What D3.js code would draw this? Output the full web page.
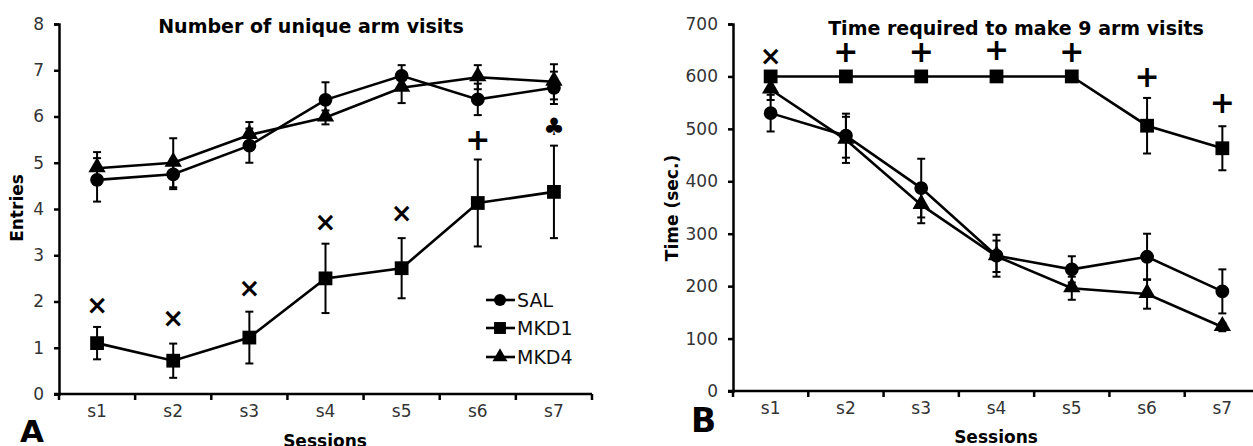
<!DOCTYPE html>
<html><head><meta charset="utf-8">
<script src="https://cdn.jsdelivr.net/npm/d3@7"></script>
<style>body{margin:0;background:#fff}svg{display:block}text{font-family:"DejaVu Sans",Verdana,sans-serif}</style>
</head><body>
<svg id="c" width="1253" height="446"></svg>
<script>
const sessions = ["s1","s2","s3","s4","s5","s6","s7"];
const seriesNames = ["SAL","MKD1","MKD4"];

// Panel A: Number of unique arm visits
const salA = [4.63, 4.75, 5.37, 6.36, 6.88, 6.37, 6.62];
const salAErr = [0.47, 0.32, 0.37, 0.38, 0.23, 0.34, 0.35];
const mkd1A = [1.10, 0.72, 1.22, 2.50, 2.72, 4.13, 4.37];
const mkd1AErr = [0.35, 0.37, 0.56, 0.75, 0.65, 0.94, 1.00];
const mkd4A = [4.88, 5.00, 5.60, 5.98, 6.62, 6.85, 6.75];
const mkd4AErr = [0.35, 0.53, 0.28, 0.15, 0.33, 0.26, 0.38];
const markA = ["×","×","×","×","×","+","♣"];
const markAY = [1.93, 1.65, 2.30, 3.72, 3.92, 5.50, 5.78];
const ticksA = [0,1,2,3,4,5,6,7,8];

// Panel B: Time required to make 9 arm visits
const salB = [530, 487, 387, 258, 232, 256, 190];
const salBErr = [35, 42, 56, 40, 25, 44, 42];
const mkd1B = [600, 600, 600, 600, 600, 506, 463];
const mkd1BErr = [0, 0, 0, 0, 0, 53, 42];
const mkd4B = [575, 479, 355, 257, 196, 185, 122];
const mkd4BErr = [20, 44, 35, 30, 22, 28, 8];
const markB = ["×","+","+","+","+","+","+"];
const markBY = [639, 648, 648, 652, 648, 600, 550];
const ticksB = [0,100,200,300,400,500,600,700];

const svg = d3.select("#c");
const symbolFor = {SAL: d3.symbolCircle, MKD1: d3.symbolSquare, MKD4: d3.symbolTriangle};
const symSize = {SAL: 150, MKD1: 190, MKD4: 130};

function panel(cfg){
  const g = svg.append("g");
  const x = d3.scaleBand().domain(sessions).range(cfg.xr).padding(0);
  const y = d3.scaleLinear().domain(cfg.yd).range(cfg.yr);
  const cx = d => x(d) + x.bandwidth()/2;

  // y axis
  const ya = g.append("g").attr("transform",`translate(${cfg.xr[0]},0)`)
    .call(d3.axisLeft(y).tickValues(cfg.ticks).tickSize(5).tickPadding(10));
  ya.select(".domain").attr("stroke","#000").attr("stroke-width",2.5);
  ya.selectAll(".tick line").attr("stroke","#000").attr("stroke-width",2.5);
  ya.selectAll(".tick text").attr("fill","#333").style("font-size","17px").style("font-family","DejaVu Sans");

  // x axis (labels centred in bands, ticks at band edges)
  const base = y(0);
  const xa = g.append("g").attr("transform",`translate(0,${base})`)
    .call(d3.axisBottom(x).tickSize(0).tickPadding(11));
  xa.select(".domain").remove();
  xa.selectAll(".tick text").attr("fill","#333").style("font-size","17px").style("font-family","DejaVu Sans");
  const edges = sessions.map(s => x(s)).concat([cfg.xr[1]]);
  g.append("line").attr("x1",cfg.xr[0]-5).attr("x2",cfg.xr[1]).attr("y1",base).attr("y2",base)
    .attr("stroke","#000").attr("stroke-width",2.5);
  g.selectAll(".xt").data(edges).join("line").attr("class","xt")
    .attr("x1",d=>d).attr("x2",d=>d).attr("y1",base).attr("y2",base+6)
    .attr("stroke","#000").attr("stroke-width",2.5);

  // series
  cfg.series.forEach(s => {
    const pts = sessions.map((k,i)=>({k, v:s.vals[i], e:s.err[i]}));
    g.append("path").datum(pts)
      .attr("d", d3.line().x(d=>cx(d.k)).y(d=>y(d.v)))
      .attr("fill","none").attr("stroke","#000").attr("stroke-width",2.6);
    const eb = g.append("g");
    pts.filter(d=>d.e>0).forEach(d=>{
      const X = cx(d.k);
      eb.append("line").attr("x1",X).attr("x2",X).attr("y1",y(d.v+d.e)).attr("y2",y(d.v-d.e))
        .attr("stroke","#000").attr("stroke-width",2);
      [d.v+d.e, d.v-d.e].forEach(v=>{
        eb.append("line").attr("x1",X-4).attr("x2",X+4).attr("y1",y(v)).attr("y2",y(v))
          .attr("stroke","#000").attr("stroke-width",2);
      });
    });
    g.selectAll(null).data(pts).join("path")
      .attr("transform", d=>`translate(${cx(d.k)},${y(d.v) + (s.name==="MKD4"?-1:0)})`)
      .attr("d", d3.symbol().type(symbolFor[s.name]).size(symSize[s.name]))
      .attr("fill","#000");
  });

  // significance marks
  g.selectAll(".mk").data(sessions.map((k,i)=>({k, m:cfg.marks[i], v:cfg.markY[i]}))).join("text")
    .attr("class","mk")
    .attr("x", d=>cx(d.k)).attr("y", d=>y(d.v))
    .attr("text-anchor","middle").attr("dominant-baseline","central")
    .attr("font-weight","bold")
    .style("font-size", d=> d.m==="+" ? "30px" : (d.m==="♣" ? "24px" : "26px"))
    .text(d=>d.m);

  // title
  g.append("text").attr("x",cfg.titleX).attr("y",cfg.titleY).attr("text-anchor","middle")
    .attr("font-weight","bold").style("font-size","19px").text(cfg.title);
  // y label
  g.append("text").attr("transform",`translate(${cfg.ylabX},${cfg.ylabY}) rotate(-90)`)
    .attr("text-anchor","middle").attr("dominant-baseline","central")
    .attr("font-weight","bold").style("font-size","17px").text(cfg.ylab);
  // x label
  g.append("text").attr("x",cfg.xlabX).attr("y",cfg.xlabY).attr("text-anchor","middle")
    .attr("font-weight","bold").style("font-size","17px").text("Sessions");
  // panel letter
  g.append("text").attr("x",cfg.letterX).attr("y",cfg.letterY)
    .attr("font-weight","bold").style("font-size",cfg.letterSize).text(cfg.letter);
  return {g, x, y};
}

const pA = panel({
  xr:[59,592], yd:[0,8], yr:[394,24], ticks:ticksA,
  series:[{name:"SAL",vals:salA,err:salAErr},{name:"MKD1",vals:mkd1A,err:mkd1AErr},{name:"MKD4",vals:mkd4A,err:mkd4AErr}],
  marks:markA, markY:markAY,
  title:"Number of unique arm visits", titleX:311, titleY:33,
  ylab:"Entries", ylabX:17, ylabY:208,
  xlabX:325, xlabY:447, letter:"A", letterX:20, letterY:442, letterSize:"31px"
});

panel({
  xr:[733,1260], yd:[0,700], yr:[391,24], ticks:ticksB,
  series:[{name:"SAL",vals:salB,err:salBErr},{name:"MKD1",vals:mkd1B,err:mkd1BErr},{name:"MKD4",vals:mkd4B,err:mkd4BErr}],
  marks:markB, markY:markBY,
  title:"Time required to make 9 arm visits", titleX:1016, titleY:35,
  ylab:"Time (sec.)", ylabX:672, ylabY:208,
  xlabX:996, xlabY:443, letter:"B", letterX:691, letterY:432, letterSize:"33px"
});

// legend (panel A)
const leg = pA.g.append("g");
const legY = [300, 328, 357];
seriesNames.forEach((n,i)=>{
  leg.append("line").attr("x1",486).attr("x2",515).attr("y1",legY[i]).attr("y2",legY[i])
    .attr("stroke","#000").attr("stroke-width",2.6);
  leg.append("path").attr("transform",`translate(500,${legY[i]})`)
    .attr("d", d3.symbol().type(symbolFor[n]).size(symSize[n]*0.75)).attr("fill","#000");
  leg.append("text").attr("x",517).attr("y",legY[i]).attr("dominant-baseline","central")
    .style("font-size","19px").attr("fill","#111").text(n);
});
</script>
</body></html>
